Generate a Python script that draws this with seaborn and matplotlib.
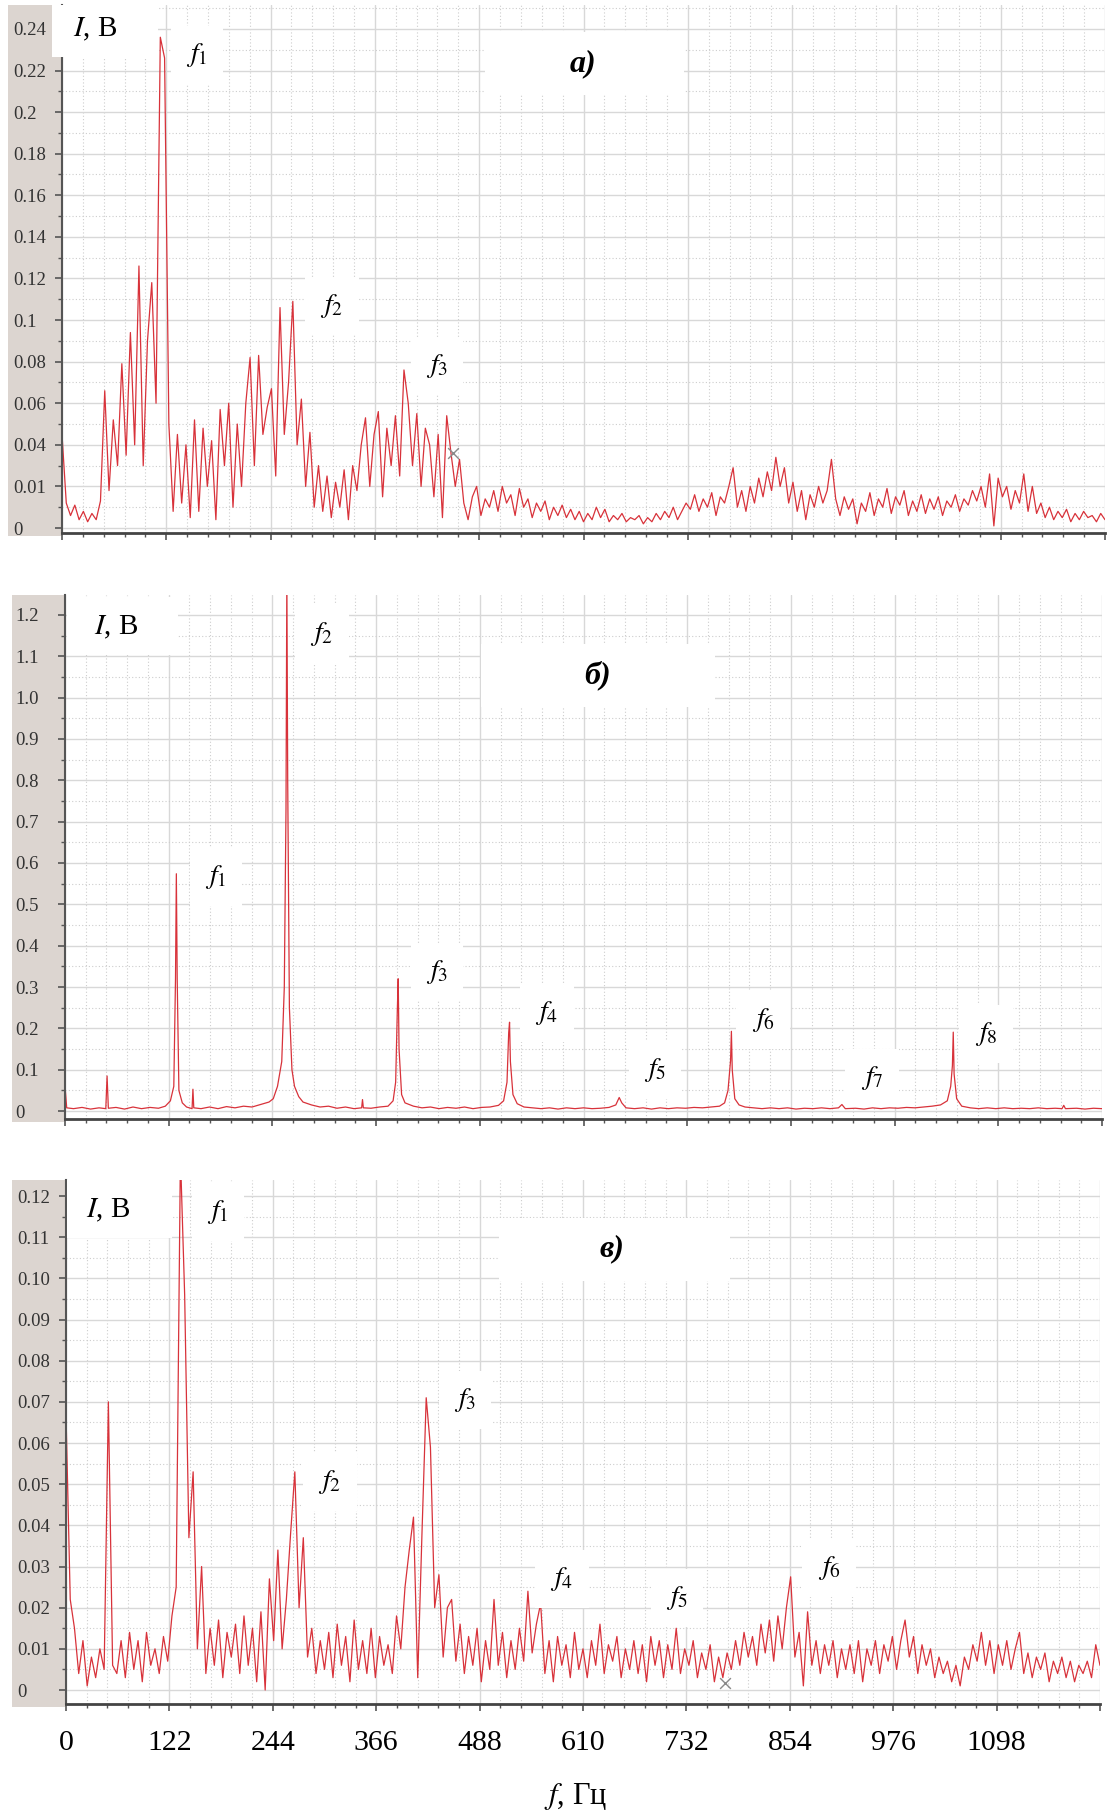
import numpy as np
import pandas as pd
import matplotlib
matplotlib.use("Agg")
import matplotlib.pyplot as plt
import seaborn as sns
from matplotlib.patches import Rectangle
from matplotlib.ticker import FixedLocator, MultipleLocator

# ---------------- data ----------------
# panel a) spectrum, 5 Hz bins starting at 0 Hz
amp_a = [
    0.045, 0.012, 0.006, 0.011, 0.004, 0.008, 0.003, 0.007, 0.004, 0.013,
    0.066, 0.018, 0.052, 0.030, 0.079, 0.035, 0.094, 0.040, 0.126, 0.030,
    0.090, 0.118, 0.060, 0.236, 0.226, 0.050, 0.008, 0.045, 0.012, 0.040,
    0.005, 0.052, 0.008, 0.048, 0.020, 0.042, 0.004, 0.057, 0.030, 0.060,
    0.010, 0.050, 0.020, 0.060, 0.082, 0.030, 0.083, 0.045, 0.058, 0.067,
    0.025, 0.106, 0.045, 0.070, 0.109, 0.040, 0.062, 0.020, 0.046, 0.010,
    0.030, 0.008, 0.025, 0.005, 0.022, 0.010, 0.028, 0.004, 0.030, 0.018,
    0.040, 0.053, 0.020, 0.045, 0.056, 0.015, 0.048, 0.030, 0.054, 0.025,
    0.076, 0.060, 0.030, 0.055, 0.020, 0.048, 0.040, 0.015, 0.045, 0.005,
    0.054, 0.036, 0.020, 0.033, 0.012, 0.004, 0.015, 0.020, 0.006, 0.014,
    0.010, 0.018, 0.008, 0.020, 0.012, 0.016, 0.006, 0.019, 0.010, 0.014,
    0.005, 0.012, 0.008, 0.013, 0.004, 0.010, 0.006, 0.011, 0.005, 0.009,
    0.004, 0.008, 0.003, 0.007, 0.004, 0.010, 0.005, 0.009, 0.003, 0.006,
    0.004, 0.007, 0.003, 0.005, 0.004, 0.006, 0.002, 0.005, 0.003, 0.007,
    0.004, 0.008, 0.005, 0.010, 0.004, 0.008, 0.012, 0.009, 0.016, 0.008,
    0.014, 0.010, 0.017, 0.006, 0.015, 0.012, 0.020, 0.029, 0.010, 0.018,
    0.008, 0.020, 0.012, 0.024, 0.015, 0.027, 0.018, 0.034, 0.020, 0.029,
    0.012, 0.022, 0.008, 0.018, 0.004, 0.016, 0.010, 0.020, 0.012, 0.018,
    0.033, 0.014, 0.006, 0.015, 0.009, 0.014, 0.002, 0.012, 0.008, 0.017,
    0.006, 0.014, 0.010, 0.019, 0.007, 0.015, 0.011, 0.018, 0.006, 0.013,
    0.008, 0.016, 0.007, 0.014, 0.009, 0.015, 0.006, 0.013, 0.010, 0.016,
    0.008, 0.014, 0.011, 0.018, 0.013, 0.020, 0.010, 0.026, 0.001, 0.024,
    0.015, 0.020, 0.009, 0.018, 0.012, 0.026, 0.008, 0.020, 0.007, 0.012,
    0.005, 0.010, 0.004, 0.008, 0.005, 0.009, 0.003, 0.007, 0.004, 0.008,
    0.005, 0.006, 0.003, 0.007, 0.004,
]
bin_hz = 5

# panel б) harmonic spectrum (frequency, amplitude)
freq_b = [0, 2, 10, 20, 30, 40, 48, 49.5, 51, 60, 70, 80, 90, 100, 110, 118, 124, 128,
          130, 131, 132, 134, 138, 143, 149.5, 150.5, 151.5, 160, 170, 180, 190, 200,
          210, 220, 230, 240, 245, 250, 255, 258, 260, 261, 262, 264, 267, 270, 275,
          280, 290, 300, 310, 320, 330, 340, 349, 350, 351, 360, 370, 380, 386, 389,
          391, 392, 393, 396, 400, 410, 420, 430, 440, 450, 460, 470, 480, 490, 500,
          510, 516, 520, 522, 523, 524, 527, 532, 540, 550, 560, 570, 580, 590, 600,
          610, 620, 630, 640, 648, 652, 655, 660, 670, 680, 690, 700, 710, 720, 730,
          740, 750, 760, 770, 776, 780, 783, 784, 785, 788, 793, 800, 810, 820, 830,
          840, 850, 860, 870, 880, 890, 900, 910, 914, 918, 930, 940, 950, 960, 970,
          980, 990, 1000, 1010, 1020, 1030, 1038, 1042, 1044, 1045, 1046, 1049, 1055,
          1065, 1075, 1085, 1095, 1105, 1115, 1125, 1135, 1145, 1155, 1165, 1173,
          1175, 1177, 1190, 1200, 1210, 1220]
amp_b = [0.061, 0.008, 0.006, 0.009, 0.005, 0.008, 0.006, 0.085, 0.007, 0.009, 0.005,
         0.010, 0.006, 0.009, 0.007, 0.012, 0.025, 0.060, 0.320, 0.574, 0.320, 0.050,
         0.020, 0.010, 0.006, 0.053, 0.008, 0.006, 0.010, 0.006, 0.011, 0.008, 0.012,
         0.010, 0.016, 0.022, 0.030, 0.060, 0.120, 0.300, 0.730, 1.300, 0.800, 0.250,
         0.100, 0.060, 0.035, 0.022, 0.015, 0.010, 0.012, 0.007, 0.010, 0.006, 0.008,
         0.028, 0.008, 0.007, 0.010, 0.012, 0.025, 0.070, 0.247, 0.320, 0.150, 0.040,
         0.020, 0.012, 0.008, 0.010, 0.006, 0.009, 0.007, 0.010, 0.006, 0.009, 0.010,
         0.014, 0.025, 0.070, 0.190, 0.215, 0.120, 0.040, 0.018, 0.010, 0.008, 0.006,
         0.008, 0.005, 0.008, 0.006, 0.008, 0.006, 0.007, 0.009, 0.015, 0.033, 0.020,
         0.008, 0.006, 0.008, 0.005, 0.008, 0.006, 0.008, 0.007, 0.009, 0.008, 0.010,
         0.012, 0.020, 0.050, 0.122, 0.193, 0.100, 0.030, 0.015, 0.010, 0.008, 0.006,
         0.008, 0.006, 0.008, 0.005, 0.007, 0.006, 0.008, 0.006, 0.008, 0.016, 0.006,
         0.007, 0.005, 0.008, 0.006, 0.008, 0.007, 0.009, 0.008, 0.010, 0.012, 0.015,
         0.025, 0.060, 0.110, 0.191, 0.090, 0.030, 0.012, 0.008, 0.006, 0.008, 0.006,
         0.008, 0.006, 0.007, 0.006, 0.008, 0.006, 0.007, 0.006, 0.014, 0.006, 0.007,
         0.005, 0.007, 0.006]

# panel в) spectrum, 5 Hz bins starting at 0 Hz
amp_c = [
    0.067, 0.022, 0.015, 0.004, 0.012, 0.001, 0.008, 0.003, 0.010, 0.005,
    0.070, 0.006, 0.004, 0.012, 0.003, 0.014, 0.005, 0.012, 0.002, 0.014,
    0.006, 0.010, 0.004, 0.013, 0.007, 0.018, 0.025, 0.130, 0.096, 0.037,
    0.053, 0.010, 0.030, 0.004, 0.015, 0.006, 0.017, 0.003, 0.014, 0.008,
    0.016, 0.004, 0.018, 0.006, 0.015, 0.002, 0.019, 0.000, 0.027, 0.012,
    0.034, 0.010, 0.022, 0.038, 0.053, 0.020, 0.037, 0.008, 0.015, 0.004,
    0.012, 0.005, 0.014, 0.003, 0.016, 0.006, 0.013, 0.002, 0.017, 0.005,
    0.012, 0.004, 0.015, 0.003, 0.013, 0.006, 0.011, 0.004, 0.018, 0.010,
    0.025, 0.034, 0.042, 0.003, 0.038, 0.071, 0.059, 0.020, 0.028, 0.008,
    0.020, 0.022, 0.007, 0.016, 0.004, 0.013, 0.006, 0.015, 0.002, 0.012,
    0.005, 0.022, 0.006, 0.014, 0.003, 0.012, 0.005, 0.015, 0.007, 0.024,
    0.009, 0.016, 0.021, 0.004, 0.012, 0.002, 0.013, 0.006, 0.011, 0.003,
    0.014, 0.005, 0.010, 0.003, 0.012, 0.006, 0.016, 0.004, 0.011, 0.007,
    0.013, 0.003, 0.010, 0.005, 0.012, 0.004, 0.011, 0.002, 0.013, 0.006,
    0.012, 0.003, 0.011, 0.005, 0.015, 0.004, 0.010, 0.006, 0.012, 0.003,
    0.009, 0.005, 0.011, 0.002, 0.008, 0.003, 0.009, 0.005, 0.012, 0.006,
    0.014, 0.008, 0.013, 0.006, 0.016, 0.009, 0.017, 0.007, 0.018, 0.010,
    0.020, 0.0275, 0.008, 0.014, 0.001, 0.019, 0.006, 0.012, 0.004, 0.011,
    0.006, 0.012, 0.003, 0.010, 0.005, 0.011, 0.004, 0.012, 0.002, 0.010,
    0.006, 0.012, 0.004, 0.011, 0.007, 0.013, 0.005, 0.012, 0.017, 0.008,
    0.013, 0.004, 0.011, 0.006, 0.010, 0.003, 0.008, 0.004, 0.007, 0.002,
    0.006, 0.001, 0.008, 0.005, 0.011, 0.007, 0.014, 0.006, 0.012, 0.004,
    0.011, 0.006, 0.012, 0.005, 0.010, 0.014, 0.004, 0.009, 0.003, 0.008,
    0.005, 0.009, 0.002, 0.007, 0.004, 0.008, 0.003, 0.007, 0.002, 0.006,
    0.004, 0.007, 0.003, 0.011, 0.006,
]

# cursor marks (frequency, amplitude)
cursor_a = ([457], [0.036])
cursor_c = ([777], [0.0016])

x_ticks = [0, 122, 244, 366, 488, 610, 732, 854, 976, 1098, 1220]
x_labels = ["0", "122", "244", "366", "488", "610", "732", "854", "976", "1098", ""]

yt_a = [0, 0.02, 0.04, 0.06, 0.08, 0.10, 0.12, 0.14, 0.16, 0.18, 0.20, 0.22, 0.24]
yl_a = ["0", "0.01", "0.04", "0.06", "0.08", "0.1", "0.12", "0.14", "0.16", "0.18",
        "0.2", "0.22", "0.24"]
yt_b = [0, 0.1, 0.2, 0.3, 0.4, 0.5, 0.6, 0.7, 0.8, 0.9, 1.0, 1.1, 1.2]
yl_b = ["0", "0.1", "0.2", "0.3", "0.4", "0.5", "0.6", "0.7", "0.8", "0.9", "1.0",
        "1.1", "1.2"]
yt_c = [0, 0.01, 0.02, 0.03, 0.04, 0.05, 0.06, 0.07, 0.08, 0.09, 0.10, 0.11, 0.12]
yl_c = ["0", "0.01", "0.02", "0.03", "0.04", "0.05", "0.06", "0.07", "0.08", "0.09",
        "0.10", "0.11", "0.12"]

# ---------------- style ----------------
sns.set_theme(style="white")
plt.rcParams["font.family"] = ["Liberation Serif", "DejaVu Serif"]
plt.rcParams["mathtext.fontset"] = "stix"

W, H, DPI = 1112, 1818, 100
RED = "#d8323a"
fig = plt.figure(figsize=(W / DPI, H / DPI), dpi=DPI, facecolor="white")


def frac(x0, y0, x1, y1):
    return [x0 / W, 1 - y1 / H, (x1 - x0) / W, (y1 - y0) / H]


def rect(x0, y0, x1, y1, color, z):
    fig.add_artist(Rectangle((x0 / W, 1 - y1 / H), (x1 - x0) / W, (y1 - y0) / H,
                             transform=fig.transFigure, facecolor=color,
                             edgecolor="none", zorder=z))


def label(x, y, s, size, box=True, **kw):
    bb = dict(boxstyle="square,pad=0.55", fc="white", ec="none") if box else None
    fig.text(x / W, 1 - y / H, s, ha="center", va="center", fontsize=size,
             color="black", bbox=bb, zorder=7, **kw)


panels = [
    dict(box=(62, 5, 1105, 533), ylim=(-0.0024, 0.2515), yt=yt_a, yl=yl_a, ym=0.01,
         band=(8, 5, 62, 536), pad=30.0),
    dict(box=(65, 595, 1102, 1119), ylim=(-0.019, 1.248), yt=yt_b, yl=yl_b, ym=0.05,
         band=(12, 595, 65, 1122), pad=30.5),
    dict(box=(66, 1180, 1100, 1704), ylim=(-0.0034, 0.1239), yt=yt_c, yl=yl_c,
         ym=0.005, band=(12, 1180, 66, 1707), pad=30.0),
]

axes = []
for i, p in enumerate(panels):
    rect(*p["band"], "#dcd5d0", -1)
    ax = fig.add_axes(frac(*p["box"]))
    ax.set_facecolor("white")
    ax.set_xlim(0, 1220)
    ax.set_ylim(*p["ylim"])
    ax.xaxis.set_major_locator(FixedLocator(x_ticks))
    ax.xaxis.set_minor_locator(MultipleLocator(24.4))
    ax.yaxis.set_major_locator(FixedLocator(p["yt"]))
    ax.yaxis.set_minor_locator(MultipleLocator(p["ym"]))
    ax.grid(which="major", color="#d8d8d8", linewidth=1.0, linestyle="-")
    ax.grid(which="minor", color="#cdcdcd", linewidth=0.8, linestyle=(0, (1, 2)))
    ax.set_axisbelow(True)
    for s in ("top", "right"):
        ax.spines[s].set_visible(False)
    ax.spines["left"].set_color("#555555")
    ax.spines["left"].set_linewidth(1.5)
    ax.spines["bottom"].set_color("#444444")
    ax.spines["bottom"].set_linewidth(2.0)
    ax.tick_params(which="both", bottom=True, left=True, direction="out",
                   color="#555555")
    ax.tick_params(which="major", length=5, width=1.2)
    ax.tick_params(which="minor", length=3, width=1.0)
    ax.set_yticklabels(p["yl"])
    for t in ax.get_yticklabels():
        t.set_horizontalalignment("left")
    ax.tick_params(axis="y", pad=p["pad"], labelsize=13.5, labelcolor="#333333")
    if i < 2:
        ax.tick_params(axis="x", labelbottom=False)
    else:
        ax.set_xticklabels(x_labels)
        ax.tick_params(axis="x", labelsize=21.5, labelcolor="black", pad=14)
    axes.append(ax)

ax_a, ax_b, ax_c = axes

df_a = pd.DataFrame({"f": np.arange(len(amp_a)) * bin_hz, "I": amp_a})
df_b = pd.DataFrame({"f": freq_b, "I": amp_b})
df_c = pd.DataFrame({"f": np.arange(len(amp_c)) * bin_hz, "I": amp_c})

for ax, df in ((ax_a, df_a), (ax_b, df_b), (ax_c, df_c)):
    sns.lineplot(data=df, x="f", y="I", ax=ax, color=RED, linewidth=0.9,
                 estimator=None, sort=False)
    ax.set_xlabel("")
    ax.set_ylabel("")

for ax, cur in ((ax_a, cursor_a), (ax_c, cursor_c)):
    sns.scatterplot(x=cur[0], y=cur[1], ax=ax, marker="x", color="#8a8a8a", s=60,
                    linewidth=1.0, zorder=5)

# ---------------- white boxes & labels ----------------
rect(52, 5, 158, 57, "white", 5)        # I, B box panel a
rect(67, 597, 178, 655, "white", 5)     # panel b
rect(67, 1180, 172, 1238, "white", 5)   # panel c
rect(485, 32, 684, 95, "white", 5)      # а)
rect(481, 644, 715, 707, "white", 5)    # б)
rect(499, 1218, 730, 1281, "white", 5)  # в)

label(95, 29, r"$I$, В", 21, box=False)
label(116, 627, r"$I$, В", 21, box=False)
label(108, 1210, r"$I$, В", 21, box=False)

label(583, 64, "а)", 23, box=False, fontweight="bold", fontstyle="italic")
label(598, 675, "б)", 23, box=False, fontweight="bold", fontstyle="italic")
label(612, 1249, "в)", 23, box=False, fontweight="bold", fontstyle="italic")

fs = 20
# panel a
label(197, 55, r"$f_{\mathit{1}}$", fs)
label(332, 306, r"$f_{\mathit{2}}$", fs)
label(437, 366, r"$f_{\mathit{3}}$", fs)
# panel b
label(322, 634, r"$f_{\mathit{2}}$", fs)
label(216, 877, r"$f_{\mathit{1}}$", fs)
label(437, 972, r"$f_{\mathit{3}}$", fs)
label(547, 1013, r"$f_{\mathit{4}}$", fs)
label(655, 1070, r"$f_{\mathit{5}}$", fs)
label(763, 1020, r"$f_{\mathit{6}}$", fs)
label(872, 1078, r"$f_{\mathit{7}}$", fs)
label(986, 1034, r"$f_{\mathit{8}}$", fs)
# panel c
label(218, 1212, r"$f_{\mathit{1}}$", fs)
label(465, 1400, r"$f_{\mathit{3}}$", fs)
label(330, 1482, r"$f_{\mathit{2}}$", fs)
label(562, 1579, r"$f_{\mathit{4}}$", fs)
label(677, 1598, r"$f_{\mathit{5}}$", fs)
label(829, 1568, r"$f_{\mathit{6}}$", fs)

# x axis label
label(576, 1797, r"$f$, Гц", 22, box=False)

fig.savefig("out.png", dpi=DPI, facecolor="white")
